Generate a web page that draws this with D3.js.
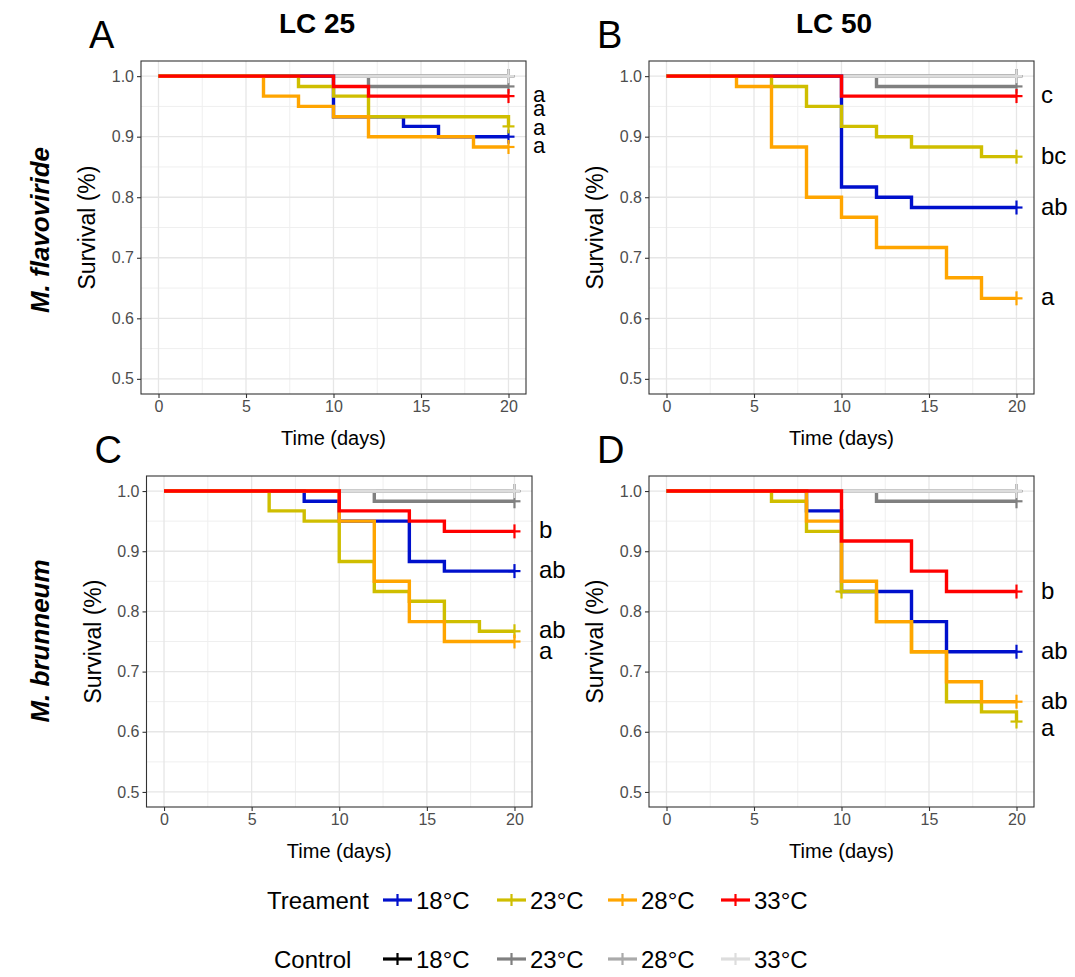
<!DOCTYPE html>
<html>
<head>
<meta charset="utf-8">
<script src="https://cdn.jsdelivr.net/npm/d3@7"></script>
<style>
  html, body { margin: 0; padding: 0; background: #fff; }
  svg { display: block; font-family: "Liberation Sans", Arial, Helvetica, sans-serif; }
</style>
</head>
<body>
<svg id="chart" width="1075" height="977"></svg>
<script>
// ---------------- DATA ----------------
const xTicks = [0, 5, 10, 15, 20];
const yTicks = [0.5, 0.6, 0.7, 0.8, 0.9, 1.0];
const colTitles = ["LC 25", "LC 50"];
const rowTitles = ["M. flavoviride", "M. brunneum"];
const panelLetters = ["A", "B", "C", "D"];
const tempLabels = ["18°C", "23°C", "28°C", "33°C"];
const treatColors = ["#0010CC", "#CFBE00", "#FFA500", "#FF0000"];
const controlColors = ["#000000", "#808080", "#AAAAAA", "#DDDDDD"];

// step survival curves: [day, survival]
// Panel A: M. flavoviride, LC 25
const A_trt18 = [[0,1],[10,0.933],[14,0.917],[16,0.9],[20,0.9]];
const A_trt23 = [[0,1],[8,0.983],[10,0.967],[12,0.933],[20,0.917]];
const A_trt28 = [[0,1],[6,0.967],[8,0.95],[10,0.933],[12,0.9],[18,0.883],[20,0.883]];
const A_trt33 = [[0,1],[10,0.983],[12,0.967],[20,0.967]];
const A_ctl18 = [[0,1],[20,1]];
const A_ctl23 = [[0,1],[12,0.983],[20,0.983]];
const A_ctl28 = [[0,1],[20,1]];
const A_ctl33 = [[0,1],[20,1]];
const A_letters = ["a", "a", "a", "a"];
const A_letterY = [0.969, 0.946, 0.914, 0.884];

// Panel B: M. flavoviride, LC 50
const B_trt18 = [[0,1],[10,0.817],[12,0.8],[14,0.783],[20,0.783]];
const B_trt23 = [[0,1],[6,0.983],[8,0.95],[10,0.917],[12,0.9],[14,0.883],[18,0.867],[20,0.867]];
const B_trt28 = [[0,1],[4,0.983],[6,0.883],[8,0.8],[10,0.767],[12,0.717],[16,0.667],[18,0.633],[20,0.633]];
const B_trt33 = [[0,1],[10,0.967],[20,0.967]];
const B_ctl18 = [[0,1],[20,1]];
const B_ctl23 = [[0,1],[12,0.983],[20,0.983]];
const B_ctl28 = [[0,1],[20,1]];
const B_ctl33 = [[0,1],[20,1]];
const B_letters = ["c", "bc", "ab", "a"];
const B_letterY = [0.967, 0.867, 0.783, 0.633];

// Panel C: M. brunneum, LC 25
const C_trt18 = [[0,1],[8,0.983],[10,0.95],[14,0.883],[16,0.867],[20,0.867]];
const C_trt23 = [[0,1],[6,0.967],[8,0.95],[10,0.883],[12,0.833],[14,0.817],[16,0.783],[18,0.767],[20,0.767]];
const C_trt28 = [[0,1],[10,0.95],[12,0.85],[14,0.783],[16,0.75],[20,0.75]];
const C_trt33 = [[0,1],[10,0.967],[14,0.95],[16,0.933],[20,0.933]];
const C_ctl18 = [[0,1],[20,1]];
const C_ctl23 = [[0,1],[12,0.983],[20,0.983]];
const C_ctl28 = [[0,1],[20,1]];
const C_ctl33 = [[0,1],[20,1]];
const C_letters = ["b", "ab", "ab", "a"];
const C_letterY = [0.933, 0.867, 0.767, 0.733];

// Panel D: M. brunneum, LC 50
const D_trt18 = [[0,1],[8,0.967],[10,0.833],[14,0.783],[16,0.733],[20,0.733]];
const D_trt23 = [[0,1],[6,0.983],[8,0.933],[10,0.833],[12,0.783],[14,0.733],[16,0.65],[18,0.633],[20,0.617]];
const D_trt28 = [[0,1],[8,0.95],[10,0.85],[12,0.783],[14,0.733],[16,0.683],[18,0.65],[20,0.65]];
const D_trt33 = [[0,1],[10,0.917],[14,0.867],[16,0.833],[20,0.833]];
const D_ctl18 = [[0,1],[20,1]];
const D_ctl23 = [[0,1],[12,0.983],[20,0.983]];
const D_ctl28 = [[0,1],[20,1]];
const D_ctl33 = [[0,1],[20,1]];
const D_letters = ["b", "ab", "ab", "a"];
const D_letterY = [0.833, 0.733, 0.65, 0.605];
// extra censor marks [day, survival, seriesIndex(treatment)]
const D_extraCensor = [[10, 0.833, 1]];

// ---------------- LAYOUT ----------------
const panels = [
  { id: "A", x: [141, 526], y: [394, 61], trt: [A_trt18, A_trt23, A_trt28, A_trt33], ctl: [A_ctl18, A_ctl23, A_ctl28, A_ctl33], letters: A_letters, letterY: A_letterY, extra: [], lfs: 22 },
  { id: "B", x: [649, 1034], y: [394, 61], trt: [B_trt18, B_trt23, B_trt28, B_trt33], ctl: [B_ctl18, B_ctl23, B_ctl28, B_ctl33], letters: B_letters, letterY: B_letterY, extra: [], lfs: 24 },
  { id: "C", x: [146.5, 532], y: [807, 476], trt: [C_trt18, C_trt23, C_trt28, C_trt33], ctl: [C_ctl18, C_ctl23, C_ctl28, C_ctl33], letters: C_letters, letterY: C_letterY, extra: [], lfs: 24 },
  { id: "D", x: [649, 1034], y: [807, 476], trt: [D_trt18, D_trt23, D_trt28, D_trt33], ctl: [D_ctl18, D_ctl23, D_ctl28, D_ctl33], letters: D_letters, letterY: D_letterY, extra: D_extraCensor, lfs: 24 }
];

const svg = d3.select("#chart");
const FONT = '"Liberation Sans", Arial, Helvetica, sans-serif';

function censor(g, x, y, color) {
  g.append("line").attr("x1", x - 6).attr("x2", x + 6).attr("y1", y).attr("y2", y)
    .attr("stroke", color).attr("stroke-width", 2.2);
  g.append("line").attr("x1", x).attr("x2", x).attr("y1", y - 7).attr("y2", y + 7)
    .attr("stroke", color).attr("stroke-width", 2.2);
}

panels.forEach((p, i) => {
  const x = d3.scaleLinear().domain([-1, 21]).range(p.x);
  const y = d3.scaleLinear().domain([0.475, 1.025]).range(p.y);
  const g = svg.append("g");

  g.append("rect").attr("x", p.x[0]).attr("y", p.y[1])
    .attr("width", p.x[1] - p.x[0]).attr("height", p.y[0] - p.y[1]).attr("fill", "#fff");

  const xMinor = [2.5, 7.5, 12.5, 17.5];
  const yMinor = [0.55, 0.65, 0.75, 0.85, 0.95];
  g.selectAll(".xm").data(xMinor).enter().append("line")
    .attr("x1", d => x(d)).attr("x2", d => x(d)).attr("y1", p.y[0]).attr("y2", p.y[1])
    .attr("stroke", "#EFEFEF").attr("stroke-width", 1);
  g.selectAll(".ym").data(yMinor).enter().append("line")
    .attr("y1", d => y(d)).attr("y2", d => y(d)).attr("x1", p.x[0]).attr("x2", p.x[1])
    .attr("stroke", "#EFEFEF").attr("stroke-width", 1);
  g.selectAll(".xg").data(xTicks).enter().append("line")
    .attr("x1", d => x(d)).attr("x2", d => x(d)).attr("y1", p.y[0]).attr("y2", p.y[1])
    .attr("stroke", "#E6E6E6").attr("stroke-width", 1.3);
  g.selectAll(".yg").data(yTicks).enter().append("line")
    .attr("y1", d => y(d)).attr("y2", d => y(d)).attr("x1", p.x[0]).attr("x2", p.x[1])
    .attr("stroke", "#E6E6E6").attr("stroke-width", 1.3);

  const line = d3.line().x(d => x(d[0])).y(d => y(d[1])).curve(d3.curveStepAfter);

  const series = [];
  p.ctl.forEach((d, k) => series.push({ data: d, color: controlColors[k] }));
  p.trt.forEach((d, k) => series.push({ data: d, color: treatColors[k] }));
  series.forEach(s => {
    g.append("path").attr("d", line(s.data)).attr("fill", "none")
      .attr("stroke", s.color).attr("stroke-width", 3.4).attr("stroke-linejoin", "miter");
    const last = s.data[s.data.length - 1];
    censor(g, x(last[0]), y(last[1]), s.color);
  });
  p.extra.forEach(e => censor(g, x(e[0]), y(e[1]), treatColors[e[2]]));

  g.append("rect").attr("x", p.x[0]).attr("y", p.y[1])
    .attr("width", p.x[1] - p.x[0]).attr("height", p.y[0] - p.y[1])
    .attr("fill", "none").attr("stroke", "#333").attr("stroke-width", 1.1);

  const ax = g.append("g").attr("transform", `translate(0,${p.y[0]})`)
    .call(d3.axisBottom(x).tickValues(xTicks).tickSize(4).tickPadding(3));
  const ay = g.append("g").attr("transform", `translate(${p.x[0]},0)`)
    .call(d3.axisLeft(y).tickValues(yTicks).tickFormat(d3.format(".1f")).tickSize(4).tickPadding(3));
  [ax, ay].forEach(a => {
    a.select(".domain").remove();
    a.selectAll(".tick line").attr("stroke", "#333").attr("stroke-width", 1.1);
    a.selectAll(".tick text").attr("fill", "#4D4D4D").style("font-size", "16px").style("font-family", FONT);
  });

  g.append("text").attr("x", (p.x[0] + p.x[1]) / 2).attr("y", p.y[0] + 51)
    .attr("text-anchor", "middle").style("font-size", "20px").text("Time (days)");
  g.append("text")
    .attr("transform", `translate(${p.x[0] - 46},${(p.y[0] + p.y[1]) / 2}) rotate(-90)`)
    .attr("text-anchor", "middle").style("font-size", "23px").text("Survival (%)");

  g.selectAll(".sig").data(p.letters).enter().append("text")
    .attr("x", p.x[1] + 7).attr("y", (d, k) => y(p.letterY[k]) + 7)
    .style("font-size", p.lfs + "px").text(d => d);

  g.append("text").attr("x", p.x[0] - 52).attr("y", p.y[1] - 13)
    .style("font-size", "38px").text(panelLetters[i]);
});

const colCenters = [317, 834];
colTitles.forEach((t, k) => {
  svg.append("text").attr("x", colCenters[k]).attr("y", 33).attr("text-anchor", "middle")
    .style("font-size", "28px").style("font-weight", "bold").text(t);
});
const rowCenters = [230, 641];
rowTitles.forEach((t, k) => {
  svg.append("text").attr("transform", `translate(49,${rowCenters[k]}) rotate(-90)`)
    .attr("text-anchor", "middle").style("font-size", "26px").style("font-weight", "bold")
    .style("font-style", "italic").text(t);
});

const legendRows = [
  { title: "Treament", colors: treatColors, y: 900, tx: 267 },
  { title: "Control", colors: controlColors, y: 959, tx: 274 }
];
const keyX = [383, 497, 608, 721];
legendRows.forEach(r => {
  const lg = svg.append("g");
  lg.append("text").attr("x", r.tx).attr("y", r.y + 9).style("font-size", "24px").text(r.title);
  r.colors.forEach((c, k) => {
    lg.append("line").attr("x1", keyX[k]).attr("x2", keyX[k] + 29).attr("y1", r.y).attr("y2", r.y)
      .attr("stroke", c).attr("stroke-width", 3.2);
    lg.append("line").attr("x1", keyX[k] + 14.5).attr("x2", keyX[k] + 14.5).attr("y1", r.y - 6).attr("y2", r.y + 6)
      .attr("stroke", c).attr("stroke-width", 2.2);
    lg.append("text").attr("x", keyX[k] + 33).attr("y", r.y + 9).style("font-size", "24px").text(tempLabels[k]);
  });
});
</script>
</body>
</html>
